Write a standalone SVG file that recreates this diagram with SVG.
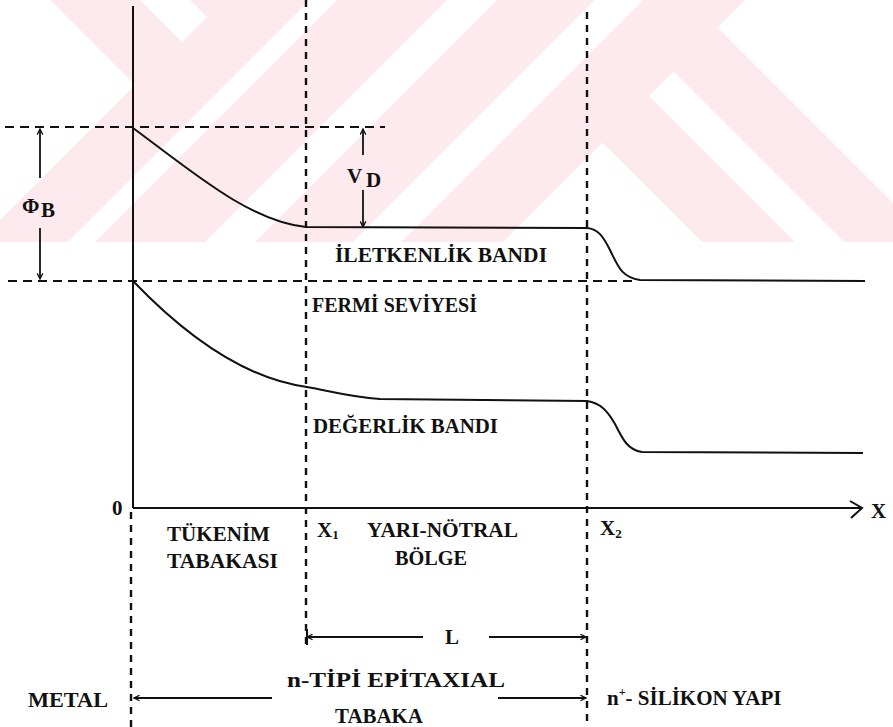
<svg xmlns="http://www.w3.org/2000/svg" width="893" height="727" viewBox="0 0 893 727">
<defs>
<style>
.t{font-family:"Liberation Serif","Times New Roman",serif;font-weight:bold;font-size:21px;fill:#111}
.hd{stroke:#111;stroke-width:2.2;stroke-dasharray:9 6;fill:none}
.vd{stroke:#111;stroke-width:2.4;stroke-dasharray:7 6;fill:none}
.sl{stroke:#111;stroke-width:2;fill:none}
.band{stroke:#111;stroke-width:2;fill:none;stroke-linejoin:round}
.arr{stroke:#111;stroke-width:1.8;fill:none;marker-end:url(#ah)}
.wm{fill:#fff}
</style>
<marker id="ah" viewBox="0 0 10 10" refX="9" refY="5" markerWidth="7" markerHeight="7" orient="auto" markerUnits="userSpaceOnUse">
<path d="M1,1 L9,5 L1,9" fill="none" stroke="#111" stroke-width="1.8"/>
</marker>
<clipPath id="wmclip"><rect x="0" y="0" width="893" height="242"/></clipPath>
</defs>
<rect width="893" height="727" fill="#fff"/>
<g id="watermark" clip-path="url(#wmclip)">
<rect x="0" y="0" width="893" height="242" fill="#fdeaee"/>
<polygon class="wm" points="0,0 50,0 135,85 0,220"/>
<polygon class="wm" points="140,0 190,0 207,17 182,42"/>
<polygon class="wm" points="310,0 337,0 95,242 68,242"/>
<polygon class="wm" points="447,0 497,0 255,242 205,242"/>
<polygon class="wm" points="595,0 643,0 401,242 353,242"/>
<polygon class="wm" points="602.5,142.5 702,242 503,242"/>
<polygon class="wm" points="649,96 673.5,71.5 844,242 795,242"/>
<polygon class="wm" points="745,0 893,0 893,203 717.5,27.5"/>
</g>
<g id="guides">
<path class="hd" d="M5,127 H385"/>
<path class="hd" d="M8,281 H637"/>
<path class="vd" d="M306,0 V645"/>
<path class="vd" d="M587,12 V727"/>
<path class="vd" d="M131,512 V727"/>
</g>
<g id="axes">
<path class="sl" d="M133,6 V508"/>
<path class="sl" d="M133,508 H862"/>
<path class="sl" d="M850,501 L862,508 L851,518"/>
</g>
<g id="conduction-band">
<path class="band" d="M133,128 C190,170 250,222 306,227 L587,228 C598,229 603,236 610,250 C618,266 621,277 640,280 L865,281"/>
</g>
<g id="valence-band">
<path class="band" d="M133,281 C180,330 240,378 307,387 C330,391 350,397 380,399 L587,401 C600,403 607,410 615,424 C623,440 628,450 642,452 L863,453"/>
</g>
<g id="connectors">
<path class="arr" d="M40,178 V129"/>
<path class="arr" d="M40,228 V279"/>
<path class="arr" d="M363,155 V129"/>
<path class="arr" d="M363,190 V227"/>
<path class="arr" d="M423,637 H307"/>
<path class="sl" d="M307,629 V645"/>
<path class="arr" d="M489,637 H586"/>
<path class="arr" d="M272,698 H134"/>
<path class="arr" d="M498,698 H586"/>
</g>
<g id="labels">
<text class="t" x="335" y="262" textLength="212" lengthAdjust="spacingAndGlyphs">İLETKENLİK BANDI</text>
<text class="t" x="312" y="312" textLength="165" lengthAdjust="spacingAndGlyphs">FERMİ SEVİYESİ</text>
<text class="t" x="313" y="433" textLength="185" lengthAdjust="spacingAndGlyphs">DEĞERLİK BANDI</text>
<text class="t" x="167" y="541" textLength="103" lengthAdjust="spacingAndGlyphs">TÜKENİM</text>
<text class="t" x="167" y="568" textLength="111" lengthAdjust="spacingAndGlyphs">TABAKASI</text>
<text class="t" x="367" y="537" textLength="151" lengthAdjust="spacingAndGlyphs">YARI-NÖTRAL</text>
<text class="t" x="395" y="565" textLength="72" lengthAdjust="spacingAndGlyphs">BÖLGE</text>
<text class="t" x="287" y="687" textLength="218" lengthAdjust="spacingAndGlyphs">n-TİPİ EPİTAXIAL</text>
<text class="t" x="335" y="723" textLength="88" lengthAdjust="spacingAndGlyphs">TABAKA</text>
<text class="t" x="28" y="707" textLength="80" lengthAdjust="spacingAndGlyphs">METAL</text>
<text class="t" x="607" y="705">n<tspan font-size="12" dy="-9">+</tspan><tspan dy="9">- SİLİKON YAPI</tspan></text>
<text class="t" x="112" y="515" font-size="19">0</text>
<text class="t" x="317" y="537">X<tspan font-size="13" dy="2">1</tspan></text>
<text class="t" x="600" y="535">X<tspan font-size="13" dy="3">2</tspan></text>
<text class="t" x="445" y="644">L</text>
<text class="t" x="871" y="518" font-size="26" font-weight="normal">X</text>
<text class="t" x="347" y="183" font-size="22" font-weight="normal">V</text>
<text class="t" x="366" y="187" font-size="16">D</text>
<text class="t" x="22" y="213" font-size="20">Φ</text>
<text class="t" x="41" y="217" font-size="14">B</text>
</g>
</svg>
